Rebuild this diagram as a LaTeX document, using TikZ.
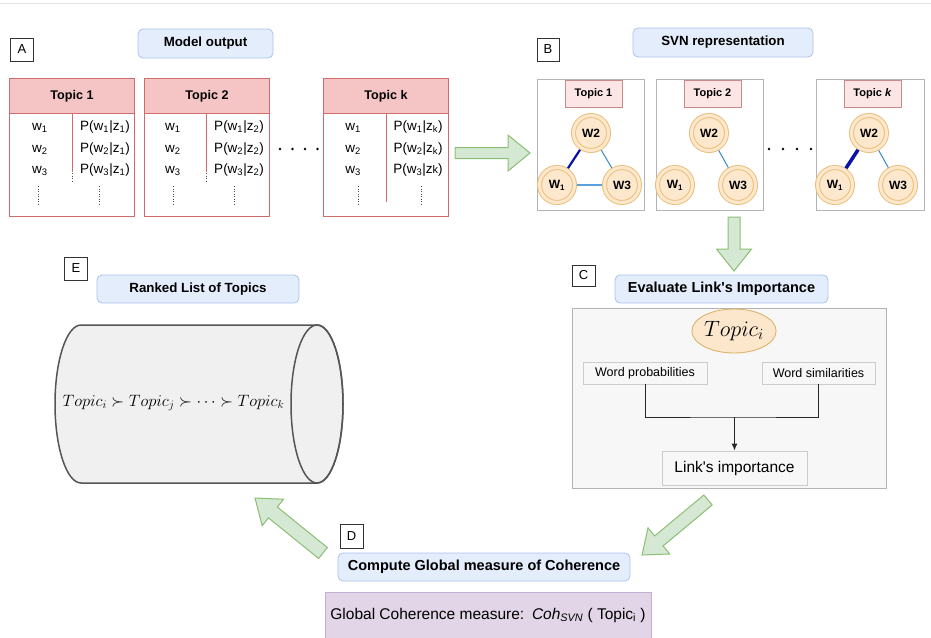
\documentclass[tikz,border=0pt]{standalone}
\usepackage{fontspec}
\setmainfont{Liberation Sans}
\usetikzlibrary{calc,shapes.geometric,arrows.meta}
\newcommand\fs[1]{\fontsize{#1}{#1}\selectfont}
\definecolor{pillfill}{HTML}{E4EDFB}
\definecolor{pilldraw}{HTML}{A9C3EA}
\definecolor{tabdraw}{HTML}{D06B6B}
\definecolor{tabheadc}{HTML}{F5C5C5}
\definecolor{tlabfill}{HTML}{FBE6E5}
\definecolor{tlabdraw}{HTML}{C98A88}
\definecolor{wfill}{HTML}{FDE8CE}
\definecolor{wdraw}{HTML}{EBC07A}
\definecolor{arrfill}{HTML}{D5E8D4}
\definecolor{arrdraw}{HTML}{8CBF73}
\definecolor{panelgray}{HTML}{B3B3B3}
\definecolor{cfill}{HTML}{F7F7F7}
\definecolor{gboxdraw}{HTML}{CCCCCC}
\definecolor{purfill}{HTML}{E1D5E7}
\definecolor{purdraw}{HTML}{C5AFD3}
\definecolor{cylfill}{HTML}{F0F0F0}
\definecolor{cyldraw}{HTML}{555555}
\definecolor{ellfill}{HTML}{FCE7CD}
\definecolor{elldraw}{HTML}{DDB56A}
\definecolor{estrongc}{HTML}{0A10A8}
\definecolor{ethinc}{HTML}{3A88C5}
\definecolor{emidc}{HTML}{5AA0DC}
\newcommand\fatarrow[5]{%
  \coordinate (fa-b) at ($(#2)!#5!(#1)$);
  \draw[bigarrow] ($(#1)!#3!90:(#2)$) -- ($(fa-b)!#3!-90:(#1)$) -- ($(fa-b)!#4!-90:(#1)$) -- (#2)
    -- ($(fa-b)!#4!90:(#1)$) -- ($(fa-b)!#3!90:(#1)$) -- ($(#1)!#3!-90:(#2)$) -- cycle;}
\begin{document}
\begin{tikzpicture}[x=1pt,y=-1pt,
  lab/.style={draw=black!80, fill=white, line width=0.8pt, minimum width=23pt, minimum height=23pt, inner sep=0pt, font=\fs{13}},
  pill/.style={draw=pilldraw, fill=pillfill, rounded corners=5pt, line width=0.8pt, inner sep=0pt, font=\bfseries\fs{13.3}},
  tabframe/.style={draw=tabdraw, fill=white, line width=1pt, inner sep=0pt, anchor=north west, minimum width=125pt, minimum height=138pt},
  tabhead/.style={draw=tabdraw, fill=tabheadc, line width=1pt, inner sep=0pt, anchor=north west, minimum width=125pt, minimum height=35pt, font=\bfseries\fs{12.6}},
  tabline/.style={draw=tabdraw, line width=1pt},
  tabdots/.style={draw=black!70, line width=0.9pt, dash pattern=on 0.9pt off 1.6pt},
  cell/.style={anchor=base, inner sep=0pt, font=\fs{13.5}},
  panel/.style={draw=panelgray, fill=white, line width=0.9pt, anchor=north west, inner sep=0pt, minimum width=107pt, minimum height=131pt},
  tlab/.style={draw=tlabdraw, fill=tlabfill, line width=0.8pt, minimum width=57pt, minimum height=27pt, inner sep=0pt, font=\bfseries\fs{11}},
  wnode/.style={circle, draw=wdraw, double=wfill, double distance=3pt, line width=1pt, fill=wfill, minimum size=35pt, inner sep=0pt, font=\bfseries\fs{12}},
  estrong/.style={draw=estrongc, line width=2.2pt},
  everystrong/.style={draw=estrongc, line width=3.5pt},
  ethin/.style={draw=ethinc, line width=1pt},
  emid/.style={draw=emidc, line width=1.6pt},
  bigarrow/.style={draw=arrdraw, fill=arrfill, line width=1pt, line join=miter},
  gbox/.style={draw=gboxdraw, fill=white!97!black, line width=0.9pt, inner sep=0pt},
  conn/.style={draw=black!85, line width=1pt},
  dotc/.style={fill=black}
]
\useasboundingbox (0,0) rectangle (931,637);
\draw[draw=black!10, line width=1pt] (0,3.5) -- (931,3.5);

% ---------------- A ----------------
\node[lab] (labA) at (22,49.5) {A};
\node[pill, minimum width=135pt, minimum height=29pt] (pillA) at (205.5,43.5) {Model output};

% Topic 1 table
\node[tabframe] (t1) at (9,78) {};
\node[tabhead] (t1h) at (9,78) {Topic 1};
\draw[tabline] (72,113) -- (72,172);
\draw[tabdots] (72,173) -- (72,182);
\node[cell] (t1w1) at (40,130) {w\textsubscript{1}};
\node[cell] (t1w2) at (40,152) {w\textsubscript{2}};
\node[cell] (t1w3) at (40,173.5) {w\textsubscript{3}};
\node[cell] (t1p1) at (105,130) {P(w\textsubscript{1}|z\textsubscript{1})};
\node[cell] (t1p2) at (105,152) {P(w\textsubscript{2}|z\textsubscript{1})};
\node[cell] (t1p3) at (105,173.5) {P(w\textsubscript{3}|z\textsubscript{1})};
\draw[tabdots] (38,186) -- (38,205);
\draw[tabdots] (99,186) -- (99,205);

% Topic 2 table
\node[tabframe] (t2) at (144,78) {};
\node[tabhead] (t2h) at (144,78) {Topic 2};
\draw[tabline] (206,113) -- (206,172);
\draw[tabdots] (206,173) -- (206,182);
\node[cell] (t2w1) at (173,130) {w\textsubscript{1}};
\node[cell] (t2w2) at (173,152) {w\textsubscript{2}};
\node[cell] (t2w3) at (173,173.5) {w\textsubscript{3}};
\node[cell] (t2p1) at (239,130) {P(w\textsubscript{1}|z\textsubscript{2})};
\node[cell] (t2p2) at (239,152) {P(w\textsubscript{2}|z\textsubscript{2})};
\node[cell] (t2p3) at (239,173.5) {P(w\textsubscript{3}|z\textsubscript{2})};
\draw[tabdots] (173,186) -- (173,205);
\draw[tabdots] (234,186) -- (234,205);

\foreach \dx in {280,292.5,305,317.5} \fill[dotc] (\dx,149) circle[radius=1.4pt];

% Topic k table
\node[tabframe] (tk) at (323,78) {};
\node[tabhead] (tkh) at (323,78) {Topic k};
\draw[tabline] (386,113) -- (386,202);
\node[cell] (tkw1) at (353,130) {w\textsubscript{1}};
\node[cell] (tkw2) at (353,152) {w\textsubscript{2}};
\node[cell] (tkw3) at (353,173.5) {w\textsubscript{3}};
\node[cell] (tkp1) at (418,130) {P(w\textsubscript{1}|z\textsubscript{k})};
\node[cell] (tkp2) at (418,152) {P(w\textsubscript{2}|z\textsubscript{k})};
\node[cell] (tkp3) at (418,173.5) {P(w\textsubscript{3}|z{\fs{11}k})};
\draw[tabdots] (358,186) -- (358,205);
\draw[tabdots] (421,186) -- (421,205);

% arrow A -> B
\coordinate (abT) at (455,153);
\coordinate (abP) at (530,153);
\fatarrow{abT}{abP}{5.5pt}{18pt}{22pt}

% ---------------- B ----------------
\node[lab, minimum width=22pt] (labB) at (548,49.5) {B};
\node[pill, minimum width=180pt, minimum height=29pt] (pillB) at (723,42.5) {SVN representation};

% panel 1
\node[panel] (p1) at (537,79) {};
\node[tlab] (p1t) at (593.5,93.5) {Topic 1};
\coordinate (p1a) at (557,185);
\coordinate (p1b) at (591,133);
\coordinate (p1c) at (622,185);
\draw[estrong] (p1b) -- (p1a);
\draw[ethin] (p1b) -- (p1c);
\draw[emid] (p1a) -- (p1c);
\node[wnode] (p1w1) at (p1a) {W\textsubscript{1}};
\node[wnode] (p1w2) at (p1b) {W2};
\node[wnode] (p1w3) at (p1c) {W3};

% panel 2
\node[panel] (p2) at (656,79) {};
\node[tlab] (p2t) at (712.5,93.5) {Topic 2};
\coordinate (p2a) at (675,185);
\coordinate (p2b) at (709,133);
\coordinate (p2c) at (738,185);
\draw[ethin] (p2b) -- (p2c);
\node[wnode] (p2w1) at (p2a) {W\textsubscript{1}};
\node[wnode] (p2w2) at (p2b) {W2};
\node[wnode] (p2w3) at (p2c) {W3};

\foreach \dx in {769,783,797,811} \fill[dotc] (\dx,149) circle[radius=1.4pt];

% panel 3
\node[panel, minimum width=108pt] (p3) at (816,79) {};
\node[tlab] (p3t) at (872.5,93.5) {Topic \textit{k}};
\coordinate (p3a) at (835,185);
\coordinate (p3b) at (869,133);
\coordinate (p3c) at (898,185);
\draw[everystrong] (p3b) -- (p3a);
\draw[ethin] (p3b) -- (p3c);
\node[wnode] (p3w1) at (p3a) {W\textsubscript{1}};
\node[wnode] (p3w2) at (p3b) {W2};
\node[wnode] (p3w3) at (p3c) {W3};

% arrow B -> C
\coordinate (bcT) at (734,217);
\coordinate (bcP) at (734,271);
\fatarrow{bcT}{bcP}{6pt}{17.5pt}{22pt}

% ---------------- C ----------------
\node[lab, minimum height=21pt] (labC) at (583.5,275.5) {C};
\node[pill, minimum width=213pt, minimum height=28pt, font=\bfseries\fs{14.5}] (pillC) at (721.5,289) {Evaluate Link\textquotesingle s Importance};
\node[draw=panelgray, fill=cfill, line width=0.9pt, minimum width=314pt, minimum height=180pt, inner sep=0pt] (cp) at (729,398) {};
\node[ellipse, draw=elldraw, fill=ellfill, line width=0.9pt, minimum width=84pt, minimum height=44pt, inner sep=0pt] (ti) at (734,331) {\scalebox{1.07}{\fs{20.74}$Topic_i$}};
\node[gbox, minimum width=124pt, minimum height=22pt, font=\fs{12.5}] (wp) at (645,373) {Word probabilities};
\node[gbox, minimum width=113pt, minimum height=22pt, font=\fs{12.5}] (ws) at (818.5,373) {Word similarities};
\node[gbox, minimum width=145pt, minimum height=34pt, font=\fs{15.5}] (lk) at (734.5,468) {Link\textquotesingle s importance};
\coordinate (join) at (734.5,417);
\draw[conn] (wp.south) |- (join) -| (ws.south);
\draw[conn, -{Latex[length=7pt,width=6pt]}] (join) -- (lk.north);

% arrow C -> D
\coordinate (cdT) at (708,500);
\coordinate (cdP) at (642,555);
\fatarrow{cdT}{cdP}{6.5pt}{17pt}{22pt}

% ---------------- D ----------------
\node[lab, minimum height=24pt] (labD) at (351.5,536) {D};
\node[pill, minimum width=292pt, minimum height=28pt, font=\bfseries\fs{14.5}] (pillD) at (484,567) {Compute Global measure of Coherence};
\node[draw=purdraw, fill=purfill, line width=0.9pt, anchor=north west, minimum width=326pt, minimum height=50pt, inner sep=0pt] (gc) at (325,592) {};
\node[inner sep=0pt, font=\fs{15.5}] (gct) at (488,615) {Global Coherence measure:\enspace\textit{Coh}\textsubscript{\textit{SVN}} ( Topic\textsubscript{i} )};

% arrow D -> E
\coordinate (deT) at (323,553);
\coordinate (deP) at (255,498);
\fatarrow{deT}{deP}{7pt}{17pt}{23pt}

% ---------------- E ----------------
\node[lab] (labE) at (76,268.5) {E};
\node[pill, minimum width=202pt, minimum height=28pt] (pillE) at (198,289) {Ranked List of Topics};
\draw[draw=cyldraw, fill=cylfill, line width=1.5pt] (81,325) -- (317,325) arc[start angle=90, end angle=-90, x radius=26pt, y radius=79pt]
  -- (81,483) arc[start angle=270, end angle=90, x radius=26pt, y radius=79pt] -- cycle;
\draw[draw=cyldraw, line width=1.5pt] (317,404) ellipse[x radius=26pt, y radius=79pt];
\node[inner sep=0pt] (rank) at (173.5,403) {\scalebox{0.953}{\fs{17.28}$Topic_i \succ Topic_j \succ \cdots \succ Topic_k$}};
\end{tikzpicture}
\end{document}
